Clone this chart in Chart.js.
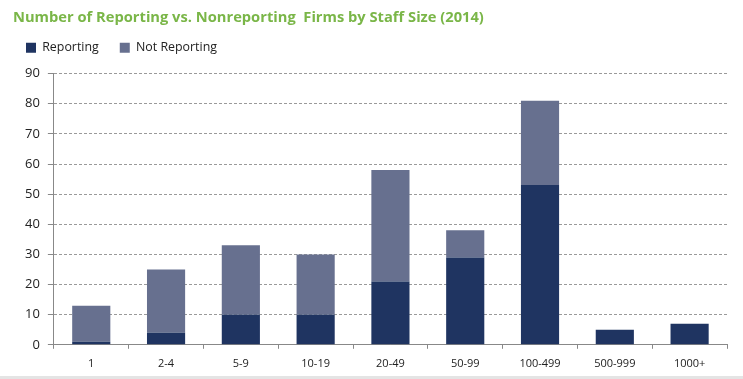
<!DOCTYPE html>
<html>
<head>
<meta charset="utf-8">
<script src="https://cdn.jsdelivr.net/npm/chart.js@4/dist/chart.umd.min.js"></script>
<style>
  html, body { margin: 0; padding: 0; background: #fff; }
  #wrap { width: 743px; height: 379px; position: relative; }
  #strip { position: absolute; left: 0; bottom: 0; width: 743px; height: 3px; background: #e4e4e4; }
</style>
</head>
<body>
<div id="wrap"><canvas id="chartCanvas"></canvas><div id="strip"></div></div>
<script>
const staffSizes = ['1', '2-4', '5-9', '10-19', '20-49', '50-99', '100-499', '500-999', '1000+'];
const reporting = [1, 4, 10, 10, 21, 29, 53, 5, 7];
const notReporting = [12, 21, 23, 20, 37, 9, 28, 0, 0];
const yTicks = [0, 10, 20, 30, 40, 50, 60, 70, 80, 90];

// legend block height, so the plot starts under it like in the picture
const legendHeight = 53;

const ctx = document.getElementById('chartCanvas').getContext('2d');
const chart = new Chart(ctx, {
    type: 'bar',
    data: {
        labels: staffSizes,
        datasets: [{
            label: 'Reporting',
            data: reporting,
            backgroundColor: '#1f3461',
            categoryPercentage: 1,
            barPercentage: 0.51
        }, {
            label: 'Not Reporting',
            data: notReporting,
            backgroundColor: '#67708f',
            categoryPercentage: 1,
            barPercentage: 0.51
        }]
    },
    options: {
        responsive: true,
        maintainAspectRatio: false,
        animation: false,
        layout: {
            padding: { left: 13, right: 16, top: 0, bottom: 1 }
        },
        plugins: {
            tooltip: { enabled: false },
            title: {
                display: true,
                text: 'Number of Reporting vs. Nonreporting  Firms by Staff Size (2014)',
                align: 'start',
                color: '#7ab648',
                font: { family: 'Open Sans', size: 14.7, weight: 'bold' },
                padding: { top: 9, bottom: -6 }
            },
            legend: {
                align: 'start',
                labels: {
                    boxWidth: 10,
                    boxHeight: 10,
                    color: '#222',
                    font: { family: 'Open Sans', size: 12.4 },
                    padding: 21
                }
            }
        },
        scales: {
            x: {
                stacked: true,
                grid: {
                    offset: true,
                    drawOnChartArea: false,
                    tickLength: 4,
                    color: '#888'
                },
                border: { color: '#888' },
                ticks: {
                    color: '#222',
                    font: { family: 'Open Sans', size: 11 },
                    padding: 8
                }
            },
            y: {
                stacked: true,
                min: 0,
                max: 90,
                afterBuildTicks: (axis) => {
                    axis.ticks = yTicks.map(v => ({ value: v }));
                },
                afterFit: (axis) => {
                    axis.width += 4;
                },
                grid: {
                    color: '#9a9a9a',
                    tickLength: 6,
                    tickColor: '#888',
                    tickBorderDash: []
                },
                border: { color: '#888', dash: [3, 2] },
                ticks: {
                    color: '#222',
                    font: { family: 'Open Sans', size: 13 },
                    padding: 8
                }
            }
        }
    },
    plugins: [{
        id: 'legendSize',
        beforeInit(c) {
            const fit = c.legend.fit;
            c.legend.fit = function () {
                fit.call(this);
                this.height = legendHeight;
            };
        },
        afterLayout(c) {
            c.legend.left -= 8;
        }
    }]
});
</script>
</body>
</html>
